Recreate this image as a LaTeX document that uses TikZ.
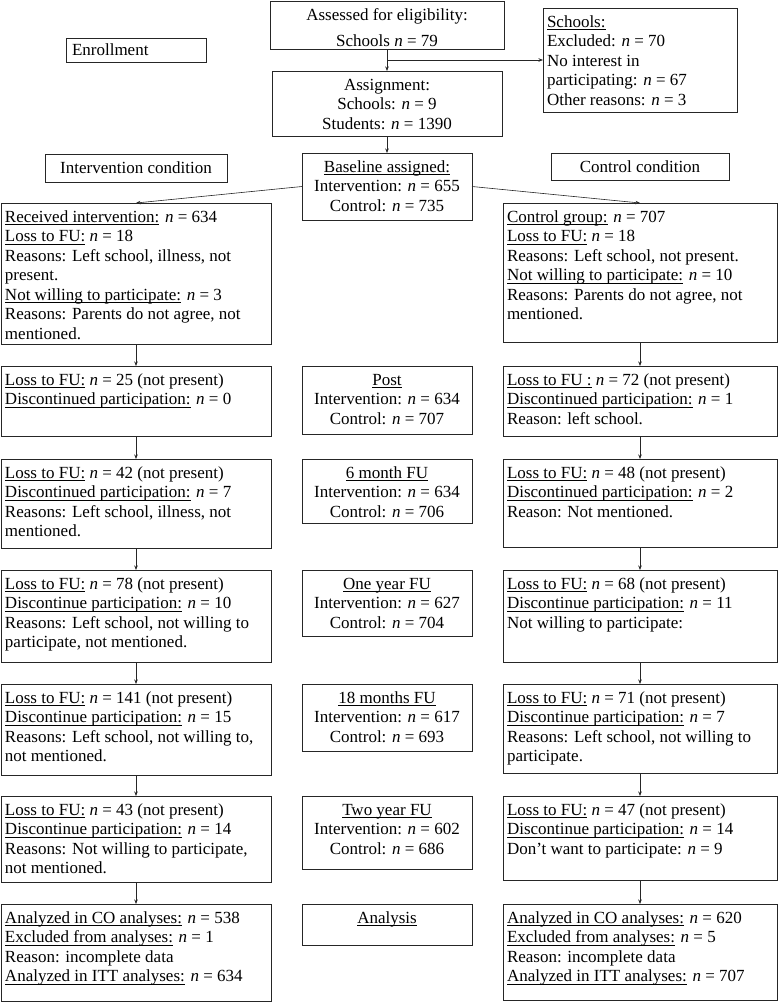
\documentclass[tikz,border=0pt]{standalone}
\usepackage{fontspec}
\setmainfont{Liberation Serif}
\usepackage{calc}
\usepackage{tikz}
\usetikzlibrary{calc}
\usetikzlibrary{arrows.meta}
\newcommand{\nn}{\textit{n}}
\newcommand{\uln}[1]{\leavevmode\rlap{\rule[-2.8pt]{\widthof{#1}}{0.6pt}}#1}
\newcommand{\flowbox}[6]{\node[fbox] (#1) at (#2,#3) {\parbox[c][#5pt][t]{#4pt-8pt}{\raggedright\rule{0pt}{19pt}#6}};}
\newcommand{\midbox}[6]{\node[fbox] (#1) at (#2,#3) {\parbox[c][#5pt][t]{#4pt-8pt}{\centering\rule{0pt}{19pt}#6}};}

\begin{document}
\begin{tikzpicture}[x=1pt,y=-1pt,
    every node/.style={font=\fontsize{17}{19.5}\selectfont},
    fbox/.style={draw=black!85, line width=0.7pt, anchor=north west, inner xsep=4pt, inner ysep=0pt, outer sep=0pt},
    lbox/.style={draw=black!85, line width=0.7pt, anchor=north west, inner xsep=6pt, inner ysep=0pt, outer sep=0pt},
    arr/.style={draw=black!85, line width=0.6pt, -{Stealth[length=4.5pt,width=3.5pt]}}]
    \useasboundingbox (0,0) rectangle (779,1002);

    % enrollment
    \midbox{assess}{270}{1}{234}{48}{Assessed for eligibility:\\[6.5pt] Schools \nn{} = 79}
    \midbox{assign}{272}{71}{230}{65}{Assignment:\\ Schools: \nn{} = 9\\ Students: \nn{} = 1390}
    \flowbox{schools}{543}{8}{194}{104}{\uln{Schools:}\\ Excluded: \nn{} = 70\\ No interest in\\ participating: \nn{} = 67\\ Other reasons: \nn{} = 3}
    \midbox{base}{302}{153}{170}{67}{\uln{Baseline assigned:}\\ Intervention: \nn{} = 655\\ Control: \nn{} = 735}

    \node[lbox, minimum width=140pt, minimum height=24pt, text width=128pt, align=left] (enroll) at (66,38) {Enrollment};
    \node[lbox, minimum width=182pt, minimum height=28pt] (intcond) at (45,154) {Intervention condition};
    \node[lbox, minimum width=178pt, minimum height=27pt] (ctlcond) at (551,153) {Control condition};

    % intervention arm
    \flowbox{int0}{1}{203}{270}{141}{\uln{Received intervention:} \nn{} = 634\\ \uln{Loss to FU:} \nn{} = 18\\ Reasons: Left school, illness, not\\ present.\\ \uln{Not willing to participate:} \nn{} = 3\\ Reasons: Parents do not agree, not\\ mentioned.}
    \flowbox{int1}{1}{366}{270}{70}{\uln{Loss to FU:} \nn{} = 25 (not present)\\ \uln{Discontinued participation:} \nn{} = 0}
    \flowbox{int2}{1}{459}{270}{89}{\uln{Loss to FU:} \nn{} = 42 (not present)\\ \uln{Discontinued participation:} \nn{} = 7\\ Reasons: Left school, illness, not\\ mentioned.}
    \flowbox{int3}{1}{570}{270}{92}{\uln{Loss to FU:} \nn{} = 78 (not present)\\ \uln{Discontinue participation:} \nn{} = 10\\ Reasons: Left school, not willing to\\ participate, not mentioned.}
    \flowbox{int4}{1}{684}{270}{91}{\uln{Loss to FU:} \nn{} = 141 (not present)\\ \uln{Discontinue participation:} \nn{} = 15\\ Reasons: Left school, not willing to,\\ not mentioned.}
    \flowbox{int5}{1}{796}{270}{86}{\uln{Loss to FU:} \nn{} = 43 (not present)\\ \uln{Discontinue participation:} \nn{} = 14\\ Reasons: Not willing to participate,\\ not mentioned.}
    \flowbox{int6}{1}{904}{270}{97}{\uln{Analyzed in CO analyses:} \nn{} = 538\\ \uln{Excluded from analyses:} \nn{} = 1\\ Reason: incomplete data\\ \uln{Analyzed in ITT analyses:} \nn{} = 634}

    % time points
    \midbox{post}{302}{366}{170}{68}{\uln{Post}\\ Intervention: \nn{} = 634\\ Control: \nn{} = 707}
    \midbox{mon6}{302}{459}{170}{64}{\uln{6 month FU}\\ Intervention: \nn{} = 634\\ Control: \nn{} = 706}
    \midbox{yr1}{302}{570}{170}{66}{\uln{One year FU}\\ Intervention: \nn{} = 627\\ Control: \nn{} = 704}
    \midbox{mon18}{302}{684}{170}{67}{\uln{18 months FU}\\ Intervention: \nn{} = 617\\ Control: \nn{} = 693}
    \midbox{yr2}{302}{796}{170}{73}{\uln{Two year FU}\\ Intervention: \nn{} = 602\\ Control: \nn{} = 686}
    \midbox{analysis}{302}{904}{170}{41}{\uln{Analysis}}

    % control arm
    \flowbox{ctl0}{503}{203}{274}{139}{\uln{Control group:} \nn{} = 707\\ \uln{Loss to FU:} \nn{} = 18\\ Reasons: Left school, not present.\\ \uln{Not willing to participate:} \nn{} = 10\\ Reasons: Parents do not agree, not\\ mentioned.}
    \flowbox{ctl1}{503}{366}{274}{70}{\uln{Loss to FU :} \nn{} = 72 (not present)\\ \uln{Discontinued participation:} \nn{} = 1\\ Reason: left school.}
    \flowbox{ctl2}{503}{459}{274}{88}{\uln{Loss to FU:} \nn{} = 48 (not present)\\ \uln{Discontinued participation:} \nn{} = 2\\ Reason: Not mentioned.}
    \flowbox{ctl3}{503}{570}{274}{92}{\uln{Loss to FU:} \nn{} = 68 (not present)\\ \uln{Discontinue participation:} \nn{} = 11\\ Not willing to participate:}
    \flowbox{ctl4}{503}{684}{274}{89}{\uln{Loss to FU:} \nn{} = 71 (not present)\\ \uln{Discontinue participation:} \nn{} = 7\\ Reasons: Left school, not willing to\\ participate.}
    \flowbox{ctl5}{503}{796}{274}{84}{\uln{Loss to FU:} \nn{} = 47 (not present)\\ \uln{Discontinue participation:} \nn{} = 14\\ Don’t want to participate: \nn{} = 9}
    \flowbox{ctl6}{503}{904}{274}{96}{\uln{Analyzed in CO analyses:} \nn{} = 620\\ \uln{Excluded from analyses:} \nn{} = 5\\ Reason: incomplete data\\ \uln{Analyzed in ITT analyses:} \nn{} = 707}

    % arrows
    \coordinate (split) at ($(assess.south)!0.5!(assign.north)$);
    \draw[arr] (assess.south) -- (assign.north);
    \draw[arr] (split) -- (schools.west);
    \draw[arr] (assign.south) -- (base.north);
    \draw[arr] (base.west) -- (int0.north);
    \draw[arr] (base.east) -- (ctl0.north);
    \foreach \a/\b in {0/1,1/2,2/3,3/4,4/5,5/6} {
        \draw[arr] (int\a.south) -- (int\b.north);
        \draw[arr] (ctl\a.south) -- (ctl\b.north);
    }

\end{tikzpicture}
\end{document}
